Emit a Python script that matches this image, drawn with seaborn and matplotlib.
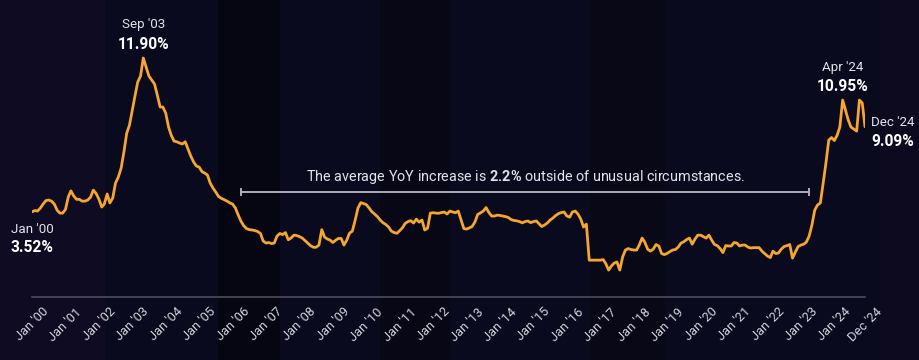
import numpy as np
import pandas as pd
import matplotlib
matplotlib.use("Agg")
import matplotlib.pyplot as plt
import seaborn as sns
from matplotlib import font_manager as fm
from matplotlib.patches import Rectangle

# ---- data: monthly YoY increase (%), Jan 2000 - Dec 2024 ----
y2000 = [3.53, 3.60, 3.57, 3.73, 3.95, 4.14, 4.17, 4.11, 3.95, 3.62, 3.46, 3.46]
y2001 = [3.66, 4.35, 4.67, 4.39, 4.21, 4.21, 4.11, 4.11, 4.17, 4.32, 4.71, 4.53]
y2002 = [4.22, 3.79, 3.95, 4.50, 4.01, 4.28, 5.09, 5.42, 5.91, 6.78, 7.81, 8.25]
y2003 = [9.07, 9.88, 10.59, 10.92, 11.90, 11.40, 10.92, 10.70, 10.48, 9.88, 9.23, 9.23]
y2004 = [8.90, 8.14, 7.70, 7.38, 7.34, 7.27, 7.22, 7.34, 6.94, 6.56, 6.24, 6.02]
y2005 = [5.96, 5.71, 5.64, 5.53, 5.09, 4.82, 4.60, 4.36, 4.26, 4.19, 4.11, 4.02]
y2006 = [3.95, 3.73, 3.38, 3.03, 2.78, 2.62, 2.56, 2.54, 2.51, 2.46, 2.35, 1.94]
y2007 = [1.83, 1.86, 1.80, 1.83, 2.21, 2.35, 2.29, 2.40, 2.01, 2.10, 2.26, 2.24]
y2008 = [2.18, 2.10, 1.97, 1.83, 1.69, 1.60, 1.60, 1.72, 2.56, 2.16, 2.05, 1.99]
y2009 = [1.86, 1.99, 2.08, 2.08, 1.72, 1.99, 2.37, 2.48, 3.08, 3.73, 4.03, 3.98]
y2010 = [3.92, 3.73, 3.54, 3.41, 3.27, 3.08, 2.94, 2.84, 2.70, 2.48, 2.40, 2.36]
y2011 = [2.51, 2.67, 2.90, 3.00, 3.05, 2.92, 3.13, 2.97, 3.08, 2.54, 2.64, 3.46]
y2012 = [3.48, 3.46, 3.45, 3.49, 3.52, 3.41, 3.57, 3.52, 3.48, 3.57, 3.08, 2.62]
y2013 = [2.59, 2.66, 2.73, 2.97, 3.38, 3.48, 3.57, 3.76, 3.49, 3.30, 3.30, 3.35]
y2014 = [3.33, 3.30, 3.27, 3.22, 3.11, 3.06, 3.04, 3.00, 2.93, 3.00, 3.03, 2.94]
y2015 = [3.00, 3.03, 2.89, 2.73, 2.81, 2.92, 3.08, 3.19, 3.33, 3.43, 3.49, 3.52]
y2016 = [3.30, 3.24, 3.52, 3.57, 3.41, 3.13, 2.70, 2.86, 0.90, 0.90, 0.90, 0.90]
y2017 = [0.90, 0.93, 0.71, 0.36, 0.58, 0.74, 0.80, 0.36, 1.07, 1.45, 1.53, 1.48]
y2018 = [1.45, 1.45, 1.72, 2.10, 1.88, 1.50, 1.39, 1.50, 1.75, 1.67, 1.26, 1.20]
y2019 = [1.27, 1.37, 1.45, 1.48, 1.61, 1.83, 1.90, 2.02, 2.10, 1.77, 2.05, 2.26]
y2020 = [2.26, 2.18, 2.10, 2.26, 1.99, 1.75, 1.69, 1.53, 1.31, 1.69, 1.67, 1.67]
y2021 = [1.86, 1.83, 1.67, 1.72, 1.72, 1.61, 1.56, 1.58, 1.58, 1.58, 1.39, 1.26]
y2022 = [1.12, 1.04, 1.39, 1.26, 1.29, 1.50, 1.64, 1.69, 1.75, 1.01, 1.34, 1.64]
y2023 = [1.72, 1.77, 1.88, 2.21, 2.81, 3.62, 3.90, 4.01, 5.09, 6.18, 7.43, 7.57]
y2024 = [7.41, 7.70, 8.14, 9.61, 9.07, 8.52, 8.14, 8.03, 7.92, 9.61, 9.45, 8.16]

tick_labels = ["Jan '00", "Jan '01", "Jan '02", "Jan '03", "Jan '04", "Jan '05", "Jan '06",
               "Jan '07", "Jan '08", "Jan '09", "Jan '10", "Jan '11", "Jan '12", "Jan '13",
               "Jan '14", "Jan '15", "Jan '16", "Jan '17", "Jan '18", "Jan '19", "Jan '20",
               "Jan '21", "Jan '22", "Jan '23", "Jan '24", "Dec '24"]

ann_dates = ["Jan '00", "Sep '03", "Apr '24", "Dec '24"]
ann_values = ["3.52%", "11.90%", "10.95%", "9.09%"]

avg_text_a = "The average YoY increase is "
avg_text_b = "2.2%"
avg_text_c = " outside of unusual circumstances."

values = np.concatenate([y2000, y2001, y2002, y2003, y2004, y2005, y2006, y2007, y2008,
                         y2009, y2010, y2011, y2012, y2013, y2014, y2015, y2016, y2017,
                         y2018, y2019, y2020, y2021, y2022, y2023, y2024])
dates = pd.date_range("2000-01-01", periods=len(values), freq="MS")
df = pd.DataFrame({"date": dates, "yoy": values})

# ---- style ----
sns.set_theme(style="dark")
avail = {f.name for f in fm.fontManager.ttflist}
fam = [f for f in ["Liberation Sans Narrow", "Roboto", "DejaVu Sans"] if f in avail]
plt.rcParams["font.family"] = fam
plt.rcParams["mathtext.fontset"] = "custom"
plt.rcParams["mathtext.rm"] = fam[0]
plt.rcParams["mathtext.bf"] = fam[0] + ":bold"

BG = "#0a0a1e"
LINE = "#f6a52d"
TXT = "#e2e2ea"
WHITE = "#ffffff"

fig = plt.figure(figsize=(9.2, 3.6), dpi=100, facecolor=BG)

# subtle vertical texture bands of the backdrop (figure-pixel spans)
bands = [(0, 105, "#1a0f2a", 0.35), (218, 280, "#020207", 0.45), (380, 450, "#030309", 0.4),
         (590, 665, "#040409", 0.3), (880, 920, "#150c26", 0.3)]
for x0, x1, c, a in bands:
    fig.patches.append(Rectangle((x0 / 920, 0), (x1 - x0) / 920, 1, transform=fig.transFigure,
                                 facecolor=c, alpha=a, edgecolor="none", zorder=-10))

ax = fig.add_axes([32 / 920, 1 - 297 / 360, 833 / 920, 297 / 360])
ax.set_facecolor("none")

sns.lineplot(data=df, x="date", y="yoy", ax=ax, color=LINE, linewidth=2.0)

ax.set_xlim(dates[0], dates[-1])
ax.set_ylim(-1.105, 15.054)
ax.set_xlabel("")
ax.set_ylabel("")
ax.set_yticks([])
ax.grid(False)

tick_pos = [d for d in dates if d.month == 1] + [dates[-1]]
ax.set_xticks(tick_pos)
ax.set_xticklabels(tick_labels, rotation=45, ha="center", fontsize=9.3, color="#d2d2da")
ax.tick_params(axis="x", length=0, pad=6)

for s in ["top", "left", "right"]:
    ax.spines[s].set_visible(False)
ax.spines["bottom"].set_color("#4c4c5c")
ax.spines["bottom"].set_linewidth(1.2)

# ---- annotations of key points ----
i_start = 0
i_peak = int(np.argmax(values))
i_recent = 288 + int(np.argmax(values[288:]))
i_end = len(values) - 1

def label(idx, dtxt, vtxt, dx_d, dy_d, dx_v, dy_v, ha):
    xy = (df["date"].iloc[idx], df["yoy"].iloc[idx])
    ax.annotate(dtxt, xy=xy, xytext=(dx_d, dy_d), textcoords="offset pixels",
                ha=ha, va="baseline", fontsize=9.6, color=TXT, annotation_clip=False)
    ax.annotate(vtxt, xy=xy, xytext=(dx_v, dy_v), textcoords="offset pixels",
                ha=ha, va="baseline", fontsize=11.2, fontweight="bold", color=WHITE,
                annotation_clip=False)

label(i_start, ann_dates[0], ann_values[0], 0, -21, 0, -40, "center")
label(i_peak, ann_dates[1], ann_values[1], 0, 30, 0, 9, "center")
label(i_recent, ann_dates[2], ann_values[2], 0, 29, 0, 9, "center")
label(i_end, ann_dates[3], ann_values[3], 6, 1, 6, -19, "left")

# ---- bracket with average note ----
b_x0 = pd.Timestamp("2006-04-01")
b_x1 = pd.Timestamp("2023-04-01")
b_y = 4.60
cap = 0.22
ax.hlines(b_y, b_x0, b_x1, color="#b9b9c2", linewidth=1.3)
ax.vlines([b_x0, b_x1], b_y - cap, b_y + cap, color="#b9b9c2", linewidth=1.3)

note = avg_text_a + r"$\mathbf{" + avg_text_b.replace("%", r"\%") + "}$" + avg_text_c
ax.text(0.592, 0.404, note, transform=ax.transAxes, ha="center", va="center",
        fontsize=10.4, color=TXT)

fig.savefig("out.png", dpi=100, facecolor=BG)
